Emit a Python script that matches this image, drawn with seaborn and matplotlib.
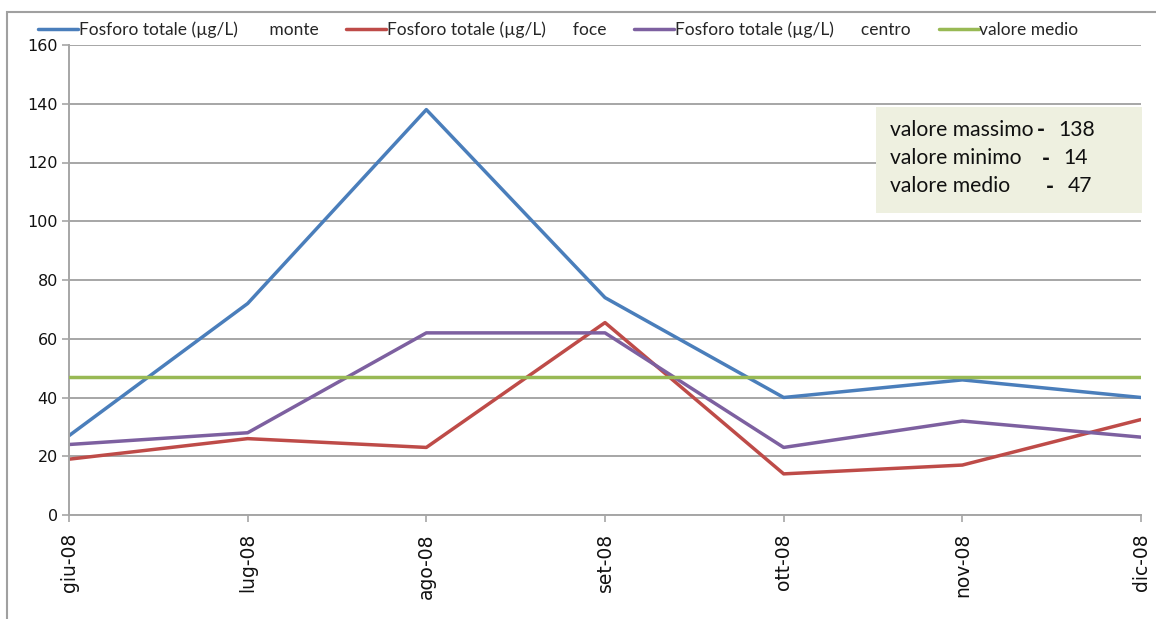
import matplotlib
matplotlib.use("Agg")
import matplotlib.pyplot as plt
from matplotlib.patches import Rectangle
from matplotlib.lines import Line2D
import seaborn as sns
import pandas as pd

# Monthly total phosphorus readings (µg/L) at three stations
mesi = ["giu-08", "lug-08", "ago-08", "set-08", "ott-08", "nov-08", "dic-08"]
monte = [27, 72, 138, 74, 40, 46, 40]
foce = [19, 26, 23, 65.5, 14, 17, 32.5]
centro = [24, 28, 62, 62, 23, 32, 26.5]

valore_massimo = 138
valore_minimo = 14
valore_medio = 47

serie_labels = [
    "Fosforo totale (µg/L)       monte",
    "Fosforo totale (µg/L)      foce",
    "Fosforo totale (µg/L)      centro",
]
medio_label = "valore medio"
y_ticks = [0, 20, 40, 60, 80, 100, 120, 140, 160]

colori = ["#4a7ebb", "#be4b48", "#7d60a0"]
colore_medio = "#98b954"

df = pd.DataFrame({
    "mese": mesi * 3,
    "valore": monte + foce + centro,
    "serie": [serie_labels[0]] * 7 + [serie_labels[1]] * 7 + [serie_labels[2]] * 7,
})

sns.set_theme(style="white")
plt.rcParams["font.family"] = ["DejaVu Sans"]

W, H = 1156, 619
fig = plt.figure(figsize=(W / 100, H / 100), dpi=100)
ax = fig.add_axes([69 / W, 1 - 515 / H, (1141 - 69) / W, (515 - 45) / H])

LW = 2.5
sns.lineplot(data=df, x="mese", y="valore", hue="serie", palette=colori,
             linewidth=LW, sort=False, ax=ax, legend=False)
ax.axhline(valore_medio, color=colore_medio, linewidth=LW, zorder=3)

ax.set_xlim(0, len(mesi) - 1)
ax.set_ylim(0, 160)
ax.set_yticks(y_ticks)
ax.set_xticks(range(len(mesi)))
ax.set_xticklabels(mesi, rotation=90)
ax.set_xlabel("")
ax.set_ylabel("")

grid_c = "#a6a6a6"
ax.yaxis.grid(True, color=grid_c, linewidth=1.4)
ax.xaxis.grid(False)
ax.set_axisbelow(True)
for side in ["top", "right"]:
    ax.spines[side].set_visible(False)
for side in ["left", "bottom"]:
    ax.spines[side].set_color(grid_c)
    ax.spines[side].set_linewidth(1.4)
ax.tick_params(axis="both", which="both", length=5, width=1.2, color=grid_c,
               labelcolor="#111111", direction="out", left=True, bottom=True)
ax.tick_params(axis="y", labelsize=11.5, pad=3)
ax.tick_params(axis="x", labelsize=13.5, pad=8)

# Legend along the top
handles = [Line2D([], [], color=c, linewidth=LW) for c in colori]
handles.append(Line2D([], [], color=colore_medio, linewidth=LW))
labels = serie_labels + [medio_label]
fig.legend(handles, labels, loc="center left", bbox_to_anchor=(38 / W, 1 - 30 / H),
           ncol=4, frameon=False, handlelength=2.3, handletextpad=0.05,
           columnspacing=1.6, prop={"family": "Lato", "size": 12.5},
           borderaxespad=0, borderpad=0)

# Summary box
def dx(px):
    return (px - 69) / (1141 - 69) * (len(mesi) - 1)

def dy(py):
    return (515 - py) / (515 - 45) * 160

box = Rectangle((dx(876), dy(213)), dx(1142) - dx(876), dy(107) - dy(213),
                facecolor="#eef0e0", edgecolor="none", zorder=5, clip_on=False)
ax.add_patch(box)
righe = [
    ("valore massimo", valore_massimo, 130, 1041, 1058),
    ("valore minimo", valore_minimo, 158, 1046, 1063),
    ("valore medio", valore_medio, 186, 1050, 1068),
]
tfont = {"family": "Lato", "size": 15.2, "color": "#111111"}
for testo, val, py, px_dash, px_num in righe:
    ax.text(dx(890), dy(py), testo, ha="left", va="center", zorder=6, **tfont)
    ax.text(dx(px_dash), dy(py), "-", ha="center", va="center", zorder=6,
            fontweight="heavy", **tfont)
    ax.text(dx(px_num), dy(py), f"{val}", ha="left", va="center", zorder=6, **tfont)

# Outer frame around the chart
fig.add_artist(Rectangle((7 / W, -0.05), 1.2, 1 - 12 / H + 0.05,
                         transform=fig.transFigure, facecolor="none",
                         edgecolor="#a0a0a0", linewidth=1.5, clip_on=False))

fig.savefig("out.png", dpi=100)
